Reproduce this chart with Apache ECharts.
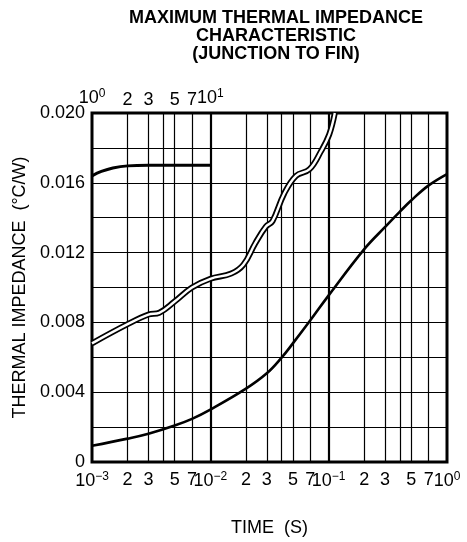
<!DOCTYPE html>
<html>
<head>
<meta charset="utf-8">
<title>Thermal impedance</title>
<script src="https://cdn.jsdelivr.net/npm/echarts@6/dist/echarts.min.js"></script>
<style>
  html, body { margin: 0; padding: 0; background: #fff; }
  #main { width: 467px; height: 542px; }
</style>
</head>
<body>
<div id="main"></div>
<script>
// bottom axis: time in seconds (log scale, 1e-3 .. 1)
var bottomTicks = [0.001, 0.002, 0.003, 0.005, 0.007, 0.01, 0.02, 0.03, 0.05, 0.07, 0.1, 0.2, 0.3, 0.5, 0.7, 1];
var bottomLabels = ['10^−3', '2', '3', '5', '7', '10^−2', '2', '3', '5', '7', '10^−1', '2', '3', '5', '7', '10^0'];
var gridTimes = [0.002, 0.003, 0.004, 0.005, 0.007, 0.02, 0.03, 0.04, 0.05, 0.07, 0.2, 0.3, 0.4, 0.5, 0.7];
var decadeTimes = [0.01, 0.1];

// top axis: only the first decade is labelled (1 .. 10 s)
var topTicks = [1, 2, 3, 5, 7, 10];
var topLabels = ['10^0', '2', '3', '5', '7', '10^1'];

// single curve, read against the bottom axis
var singleTime = [0.001, 0.002, 0.003, 0.005, 0.007, 0.01, 0.02, 0.03, 0.04, 0.05, 0.07, 0.1, 0.2, 0.3, 0.4, 0.5, 0.7, 1];
var singleZ = [0.00093, 0.00134, 0.00162, 0.00209, 0.00247, 0.0030, 0.0042, 0.00508, 0.00598, 0.00681, 0.00812, 0.00955, 0.0122, 0.01347, 0.01435, 0.0150, 0.01585, 0.0165];

// short curve, read against the top axis
var flatTime = [1, 1.2, 1.5, 2, 3, 10];
var flatZ = [0.0164, 0.01665, 0.01685, 0.01697, 0.0170, 0.0170];

// double-line curve, bottom axis
var doubleTime = [0.001, 0.002, 0.003, 0.0037, 0.005, 0.007, 0.01, 0.015, 0.019, 0.024, 0.0295, 0.0335, 0.042, 0.053, 0.069, 0.086, 0.101, 0.1127];
var doubleZ = [0.0068, 0.0079, 0.00845, 0.00855, 0.0092, 0.0100, 0.0105, 0.0108, 0.0113, 0.01254, 0.01349, 0.0138, 0.01537, 0.0164, 0.01678, 0.0178, 0.01876, 0.0200];

var FONT = '"Liberation Sans", Arial, Helvetica, sans-serif';

function lg(v) { return Math.log10(v); }

function pairs(ts, zs) {
  return ts.map(function (t, i) { return [lg(t), zs[i]]; });
}

// turn '10^−3' into rich text with a raised exponent
function labelFor(ticks, labels) {
  return function (value) {
    for (var i = 0; i < ticks.length; i++) {
      if (Math.abs(lg(ticks[i]) - value) < 1e-6) {
        var s = labels[i].split('^');
        if (s.length > 1) return '{b|' + s[0] + '}{s|' + s[1] + '}';
        return '{b|' + s[0] + '}';
      }
    }
    return '';
  };
}

var richText = {
  b: { fontSize: 18, fontFamily: FONT, color: '#000' },
  s: { fontSize: 12, fontFamily: FONT, color: '#000', padding: [0, 0, 9, 0] }
};

var chart = echarts.init(document.getElementById('main'), null, { renderer: 'canvas' });

var option = {
  backgroundColor: '#fff',
  animation: false,
  title: {
    text: 'MAXIMUM THERMAL IMPEDANCE\nCHARACTERISTIC\n(JUNCTION TO FIN)',
    left: 271,
    textAlign: 'center',
    top: 4,
    textStyle: { fontFamily: FONT, fontSize: 18, fontWeight: 'bold', color: '#000', lineHeight: 18 }
  },
  grid: {
    left: 92, right: 20, top: 113, bottom: 75,
    show: true,
    borderColor: '#000',
    borderWidth: 3
  },
  xAxis: [{
    type: 'value',
    position: 'bottom',
    min: -3, max: 0,
    name: 'TIME  (S)',
    nameLocation: 'middle',
    nameGap: 57,
    nameTextStyle: { fontFamily: FONT, fontSize: 18, color: '#000' },
    axisLine: { show: false },
    axisTick: { show: false, customValues: gridTimes.map(lg) },
    axisLabel: {
      customValues: bottomTicks.map(lg),
      formatter: labelFor(bottomTicks, bottomLabels),
      rich: richText,
      margin: 9,
      hideOverlap: false
    },
    splitLine: { show: true, lineStyle: { color: '#000', width: 1.2 } }
  }, {
    // top scale: 1 .. 1000 s in log units, labels only on the first decade
    type: 'value',
    position: 'top',
    min: 0, max: 3,
    axisLine: { show: false },
    axisTick: { show: false, customValues: decadeTimes.map(function (t) { return lg(t * 1000); }) },
    axisLabel: {
      customValues: topTicks.map(lg),
      formatter: labelFor(topTicks, topLabels),
      rich: richText,
      margin: 4,
      hideOverlap: false
    },
    splitLine: { show: true, lineStyle: { color: '#000', width: 2.2 } }
  }],
  yAxis: {
    type: 'value',
    min: 0, max: 0.02,
    interval: 0.002,
    name: 'THERMAL IMPEDANCE  (°C/W)',
    nameLocation: 'middle',
    nameGap: 61,
    nameTextStyle: { fontFamily: FONT, fontSize: 18, color: '#000' },
    axisLine: { show: false },
    axisTick: { show: false },
    axisLabel: {
      margin: 7,
      fontFamily: FONT,
      fontSize: 18,
      color: '#000',
      formatter: function (v) {
        var k = Math.round(v * 1000);
        if (k % 4 !== 0) return '';
        return k === 0 ? '0' : v.toFixed(3);
      }
    },
    splitLine: { show: true, lineStyle: { color: '#000', width: 1.2 } }
  },
  series: [{
    name: 'single',
    type: 'line',
    xAxisIndex: 0,
    data: pairs(singleTime, singleZ),
    smooth: 0.4,
    symbol: 'none',
    lineStyle: { color: '#000', width: 2.6 }
  }, {
    name: 'short',
    type: 'line',
    xAxisIndex: 1,
    data: pairs(flatTime, flatZ),
    smooth: 0.4,
    symbol: 'none',
    lineStyle: { color: '#000', width: 3 }
  }, {
    name: 'double outer',
    type: 'line',
    xAxisIndex: 0,
    data: pairs(doubleTime, doubleZ),
    smooth: 0.4,
    symbol: 'none',
    lineStyle: { color: '#000', width: 6 }
  }, {
    name: 'double inner',
    type: 'line',
    xAxisIndex: 0,
    data: pairs(doubleTime, doubleZ),
    smooth: 0.4,
    symbol: 'none',
    lineStyle: { color: '#fff', width: 2.4 }
  }]
};

chart.setOption(option);
</script>
</body>
</html>
